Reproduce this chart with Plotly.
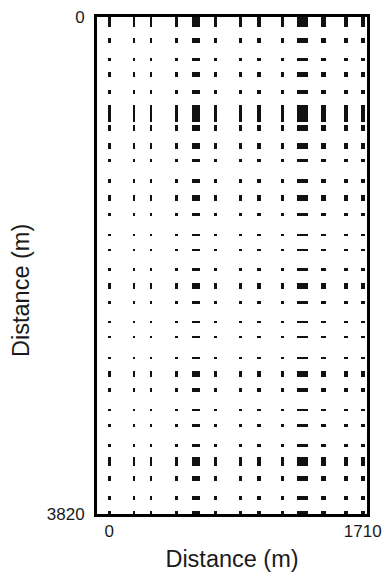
import plotly.graph_objects as go

# Column (x) positions in metres and mark widths in metres
col_x = [0, 166, 283, 451, 586, 718, 887, 1010, 1170, 1304, 1443, 1600, 1710]
col_w = [22, 11, 13, 20, 56, 20, 13, 22, 22, 79, 34, 27, 27]

# Row (depth) positions in metres and mark heights in metres
row_y = [0, 181, 330, 440, 580, 742, 852, 995, 1104, 1264, 1390, 1520, 1674, 1789,
         1942, 2067, 2194, 2348, 2464, 2619, 2745, 2866, 3023, 3141, 3294, 3420,
         3548, 3700, 3820]
row_h = [158, 35, 23, 36, 31, 128, 41, 46, 18, 31, 51, 21, 8, 10, 21, 51, 18, 13,
         10, 18, 51, 25, 13, 23, 21, 69, 33, 31, 51]

x_ticks = [0, 1710]
y_ticks = [0, 3820]
axis_label = "Distance (m)"

fig = go.Figure()
for ry, rh in zip(row_y, row_h):
    fig.add_trace(go.Bar(
        x=col_x,
        y=[rh] * len(col_x),
        base=[ry - rh / 2] * len(col_x),
        width=col_w,
        marker=dict(color="#111111", line=dict(width=0)),
        showlegend=False,
        hoverinfo="skip",
    ))

font_family = "Liberation Sans, Arial, sans-serif"
txt_color = "#1a1a1a"
fig.update_layout(
    width=385, height=575,
    margin=dict(l=97, r=18, t=17, b=61, autoexpand=False),
    paper_bgcolor="white", plot_bgcolor="white",
    barmode="overlay", bargap=0,
    font=dict(family=font_family, color=txt_color),
    xaxis=dict(
        range=[-83, 1739], showgrid=False, zeroline=False,
        showline=True, mirror=True, linecolor="black", linewidth=3,
        tickvals=x_ticks, ticktext=[str(v) for v in x_ticks],
        ticks="",
        tickfont=dict(size=17, family=font_family, color=txt_color),
        title=dict(text=axis_label, font=dict(size=23.5, family=font_family, color=txt_color), standoff=11),
        automargin=False,
    ),
    yaxis=dict(
        range=[3820, 0], showgrid=False, zeroline=False,
        showline=True, mirror=True, linecolor="black", linewidth=3,
        tickvals=y_ticks, ticktext=[str(v) for v in y_ticks],
        ticks="outside", ticklen=6, tickcolor="rgba(0,0,0,0)",
        tickfont=dict(size=17, family=font_family, color=txt_color),
        automargin=False,
    ),
    annotations=[dict(
        text=axis_label, xref="paper", yref="paper",
        x=-0.281, y=0.449, xanchor="center", yanchor="middle",
        textangle=-90, showarrow=False,
        font=dict(size=23.5, family=font_family, color=txt_color),
    )],
)

fig.write_html("out.html")
